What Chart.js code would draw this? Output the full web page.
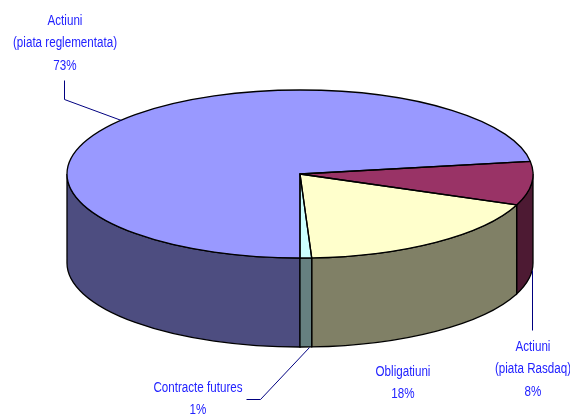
<!DOCTYPE html>
<html>
<head>
<meta charset="utf-8">
<script src="https://cdn.jsdelivr.net/npm/chart.js@4"></script>
<style>
  html, body { margin: 0; padding: 0; background: #ffffff; overflow: hidden; }
  #box { width: 570px; height: 414px; }
</style>
</head>
<body>
<div id="box"><canvas id="myChart" width="570" height="414"></canvas></div>
<script>
const categories = [
    ['Actiuni', '(piata reglementata)'],
    ['Actiuni', '(piata Rasdaq)'],
    ['Obligatiuni'],
    ['Contracte futures']
];
// the labels only show whole percents, the slices look a bit finer than that
const values = [72.6, 8.4, 18.2, 0.8];
const topColors = ['#9999ff', '#993366', '#ffffcc', '#ccffff'];
const wallColors = ['#4d4d80', '#4d1a33', '#808066', '#668080'];

// where each label sits, and the bend of its leader line (null = no line)
const labelX = [65, 533, 403, 198];
const labelY = [21, 347, 372, 388];
const bends = [[[121, 120], [64, 99], [64, 80]], [[532, 270], [532, 330]], null, [[309, 347], [260, 399], [246, 399]]];

const tilt = 84 / 233;
const depth = 89;
const lineHeight = 22.5;
const textSqueeze = 0.83;

// draws the side walls, then squashes the pie that Chart.js draws into an ellipse
const pie3d = {
    id: 'pie3d',
    beforeDatasetsDraw(chart) {
        const ctx = chart.ctx;
        const arcs = chart.getDatasetMeta(0).data;

        ctx.save();
        ctx.lineWidth = 1.3;
        ctx.strokeStyle = '#000000';
        arcs.forEach((arc, i) => {
            for (const shift of [-2 * Math.PI, 0, 2 * Math.PI]) {
                const from = Math.max(arc.startAngle + shift, 0);
                const to = Math.min(arc.endAngle + shift, Math.PI);
                if (from >= to) continue;
                const rx = arc.outerRadius;
                const ry = rx * tilt;
                ctx.beginPath();
                ctx.ellipse(arc.x, arc.y, rx, ry, 0, from, to);
                ctx.ellipse(arc.x, arc.y + depth, rx, ry, 0, to, from, true);
                ctx.closePath();
                ctx.fillStyle = wallColors[i];
                ctx.fill();
                ctx.stroke();
            }
        });
        ctx.restore();

        const arc = arcs[0];
        ctx.save();
        ctx.translate(arc.x, arc.y);
        ctx.scale(1, tilt);
        ctx.translate(-arc.x, -arc.y);
    },
    afterDatasetsDraw(chart) {
        const ctx = chart.ctx;
        ctx.restore();

        ctx.save();
        ctx.lineWidth = 1.3;
        ctx.strokeStyle = '#000000';
        ctx.lineJoin = 'round';
        chart.getDatasetMeta(0).data.forEach((arc) => {
            const rx = arc.outerRadius;
            const ry = rx * tilt;
            ctx.beginPath();
            ctx.moveTo(arc.x, arc.y);
            ctx.ellipse(arc.x, arc.y, rx, ry, 0, arc.startAngle, arc.endAngle);
            ctx.closePath();
            ctx.stroke();
        });
        ctx.restore();
    },
    afterDraw(chart) {
        const ctx = chart.ctx;
        ctx.save();

        ctx.strokeStyle = '#000080';
        ctx.lineWidth = 1;
        bends.forEach((line) => {
            if (!line) return;
            ctx.beginPath();
            line.forEach((p, j) => {
                if (j === 0) ctx.moveTo(p[0] + 0.5, p[1] + 0.5);
                else ctx.lineTo(p[0] + 0.5, p[1] + 0.5);
            });
            ctx.stroke();
        });

        ctx.fillStyle = '#2222ff';
        ctx.font = '14px "Liberation Sans"';
        ctx.textAlign = 'center';
        ctx.textBaseline = 'middle';
        categories.forEach((lines, i) => {
            const text = lines.concat(Math.round(values[i]) + '%');
            text.forEach((line, j) => {
                ctx.save();
                ctx.translate(labelX[i], labelY[i] + j * lineHeight);
                ctx.scale(textSqueeze, 1);
                ctx.fillText(line, 0, 0);
                ctx.restore();
            });
        });
        ctx.restore();
    }
};

const ctx = document.getElementById('myChart');
const myChart = new Chart(ctx, {
    type: 'pie',
    data: {
        labels: categories.map((c) => c.join(' ')),
        datasets: [{
            data: values,
            backgroundColor: topColors,
            borderWidth: 0,
            radius: 233,
            clip: false
        }]
    },
    plugins: [pie3d],
    options: {
        responsive: false,
        animation: false,
        rotation: 180,
        layout: { padding: { left: 30, bottom: 66 } },
        plugins: {
            legend: { display: false },
            tooltip: { enabled: false }
        }
    }
});
</script>
</body>
</html>
